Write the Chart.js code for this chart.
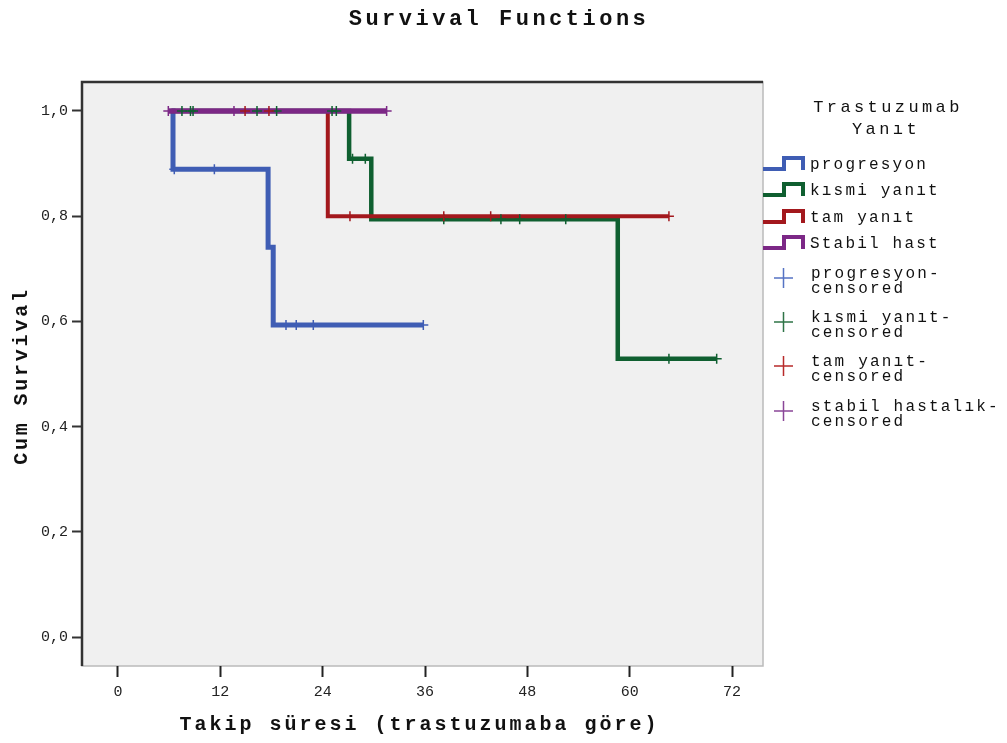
<!DOCTYPE html>
<html>
<head>
<meta charset="utf-8">
<script src="https://cdn.jsdelivr.net/npm/chart.js@4"></script>
<style>
  html, body { margin: 0; padding: 0; background: #fff; }
</style>
</head>
<body>
<canvas id="chart" width="1007" height="743"></canvas>
<script>
// groups (Trastuzumab Yanıt)
var groups = ['progresyon', 'kısmi yanıt', 'tam yanıt', 'Stabil hast'];
var censorLabels = [
  ['progresyon-', 'censored'],
  ['kısmi yanıt-', 'censored'],
  ['tam yanıt-', 'censored'],
  ['stabil hastalık-', 'censored']
];

// step points: time (months) and cumulative survival
var progTimes = [6.3, 6.45, 17.6, 18.2, 35.8];
var progSurv  = [1, 0.889, 0.741, 0.593, 0.593];
var progCensor = [6.6, 11.3, 19.7, 20.9, 22.9, 35.8];

var kismiTimes = [6.2, 27.1, 29.7, 58.6, 70.2];
var kismiSurv  = [1, 0.909, 0.794, 0.529, 0.529];
var kismiCensor = [7.5, 8.5, 8.8, 16.3, 18.6, 25.1, 25.6, 27.5, 29.0, 38.2, 44.9, 47.1, 52.5, 64.6, 70.2];

var tamTimes = [6.2, 24.6, 64.6];
var tamSurv  = [1, 0.8, 0.8];
var tamCensor = [14.9, 17.7, 27.2, 38.2, 43.7, 64.6];

var stabilTimes = [5.9, 31.5];
var stabilSurv  = [1, 1];
var stabilCensor = [5.9, 13.6, 31.5];

var xTicks = [0, 12, 24, 36, 48, 60, 72];
var xTickLabels = ['0', '12', '24', '36', '48', '60', '72'];
var yTicks = [0, 0.2, 0.4, 0.6, 0.8, 1.0];
var yTickLabels = ['0,0', '0,2', '0,4', '0,6', '0,8', '1,0'];

var lineColors = ['#3f5db4', '#0f5f30', '#a3181d', '#7c2886'];
var censorColors = ['#5673c4', '#2f7447', '#b82a2a', '#8a4698'];

function steps(times, surv) {
  return times.map(function (t, i) { return { x: t, y: surv[i] }; });
}
function survAt(times, surv, t) {
  var s = surv[0];
  for (var i = 0; i < times.length; i++) {
    if (times[i] <= t) s = surv[i];
  }
  return s;
}
function censorPts(cens, times, surv) {
  return cens.map(function (t) { return { x: t, y: survAt(times, surv, t) }; });
}

var allTimes = [progTimes, kismiTimes, tamTimes, stabilTimes];
var allSurv = [progSurv, kismiSurv, tamSurv, stabilSurv];
var allCensor = [progCensor, kismiCensor, tamCensor, stabilCensor];
var widths = [5, 4.5, 4, 5.5];

var datasets = [];
// censored marks on top
[3, 2, 1, 0].forEach(function (g) {
  datasets.push({
    label: censorLabels[g].join(''),
    data: censorPts(allCensor[g], allTimes[g], allSurv[g]),
    showLine: false,
    pointStyle: 'cross',
    pointRadius: 5,
    pointBorderWidth: 1.5,
    borderColor: lineColors[g],
    backgroundColor: lineColors[g]
  });
});
// lines: purple, red, green, blue (first drawn on top)
[3, 2, 1, 0].forEach(function (g) {
  datasets.push({
    label: groups[g],
    data: steps(allTimes[g], allSurv[g]),
    stepped: 'before',
    borderColor: lineColors[g],
    borderWidth: widths[g],
    pointRadius: 0,
    fill: false
  });
});

var frame = {
  id: 'frame',
  beforeDraw: function (chart) {
    var a = chart.chartArea, ctx = chart.ctx;
    ctx.save();
    ctx.fillStyle = '#f0f0f0';
    ctx.fillRect(a.left, a.top, a.right - a.left, a.bottom - a.top);
    ctx.strokeStyle = '#bbbbbb';
    ctx.lineWidth = 1.5;
    ctx.strokeRect(a.left, a.top, a.right - a.left, a.bottom - a.top);
    ctx.strokeStyle = '#333333';
    ctx.lineWidth = 2.5;
    ctx.beginPath();
    ctx.moveTo(a.left, a.bottom);
    ctx.lineTo(a.left, a.top);
    ctx.lineTo(a.right, a.top);
    ctx.stroke();
    ctx.restore();
  },
  afterDraw: function (chart) {
    var a = chart.chartArea, ctx = chart.ctx;
    ctx.save();
    ctx.fillStyle = '#111';
    ctx.textAlign = 'center';
    ctx.textBaseline = 'middle';

    // title
    ctx.font = 'bold 22px "Liberation Mono"';
    ctx.letterSpacing = '3.5px';
    ctx.fillText('Survival Functions', 499, 19);

    // axis titles
    ctx.font = 'bold 20px "Liberation Mono"';
    ctx.letterSpacing = '3px';
    ctx.fillText('Takip süresi (trastuzumaba göre)', (a.left + a.right) / 2 - 3, 725);
    ctx.save();
    ctx.translate(22, 376);
    ctx.rotate(-Math.PI / 2);
    ctx.letterSpacing = '2.8px';
    ctx.fillText('Cum Survival', 0, 0);
    ctx.restore();

    // legend
    ctx.font = '17px "Liberation Mono"';
    ctx.letterSpacing = '3.4px';
    ctx.fillText('Trastuzumab', 888, 107);
    ctx.fillText('Yanıt', 886, 129);

    ctx.textAlign = 'left';
    ctx.font = '16px "Liberation Mono"';
    ctx.letterSpacing = '2.2px';
    var ly = [165, 191, 218, 244];
    for (var i = 0; i < 4; i++) {
      var y = ly[i];
      ctx.strokeStyle = lineColors[i];
      ctx.lineWidth = 4;
      ctx.lineJoin = 'miter';
      ctx.beginPath();
      ctx.moveTo(763, y + 4);
      ctx.lineTo(784, y + 4);
      ctx.lineTo(784, y - 7);
      ctx.lineTo(803, y - 7);
      ctx.lineTo(803, y + 5);
      ctx.stroke();
      ctx.fillText(groups[i], 810, y);
    }
    var cy = [278, 322, 366, 411];
    for (var j = 0; j < 4; j++) {
      var c = cy[j];
      ctx.strokeStyle = censorColors[j];
      ctx.lineWidth = 1.5;
      ctx.beginPath();
      ctx.moveTo(774, c);
      ctx.lineTo(793, c);
      ctx.moveTo(783.5, c - 10);
      ctx.lineTo(783.5, c + 10);
      ctx.stroke();
      ctx.fillText(censorLabels[j][0], 811, c - 4);
      ctx.fillText(censorLabels[j][1], 811, c + 11);
    }
    ctx.restore();
  }
};

var ctx = document.getElementById('chart').getContext('2d');
new Chart(ctx, {
  type: 'line',
  data: { datasets: datasets },
  options: {
    responsive: false,
    animation: false,
    layout: { padding: { left: 37, right: 244, top: 82, bottom: 36 } },
    plugins: { legend: { display: false }, tooltip: { enabled: false }, title: { display: false } },
    scales: {
      x: {
        type: 'linear',
        min: -4.22,
        max: 75.63,
        afterBuildTicks: function (scale) {
          scale.ticks = xTicks.map(function (v) { return { value: v }; });
        },
        grid: { display: true, drawOnChartArea: false, tickLength: 11, tickColor: '#222', tickWidth: 2 },
        border: { display: false },
        ticks: {
          autoSkip: false,
          maxRotation: 0,
          padding: 6,
          color: '#222',
          font: { family: 'Liberation Mono', size: 15 },
          callback: function (v, i) { return xTickLabels[i]; }
        }
      },
      y: {
        type: 'linear',
        min: -0.055,
        max: 1.055,
        afterBuildTicks: function (scale) {
          scale.ticks = yTicks.map(function (v) { return { value: v }; });
        },
        grid: { display: true, drawOnChartArea: false, tickLength: 10, tickColor: '#333', tickWidth: 2 },
        border: { display: false },
        ticks: {
          autoSkip: false,
          padding: 4,
          color: '#222',
          font: { family: 'Liberation Mono', size: 15 },
          callback: function (v, i) { return yTickLabels[i]; }
        }
      }
    }
  },
  plugins: [frame]
});
</script>
</body>
</html>
